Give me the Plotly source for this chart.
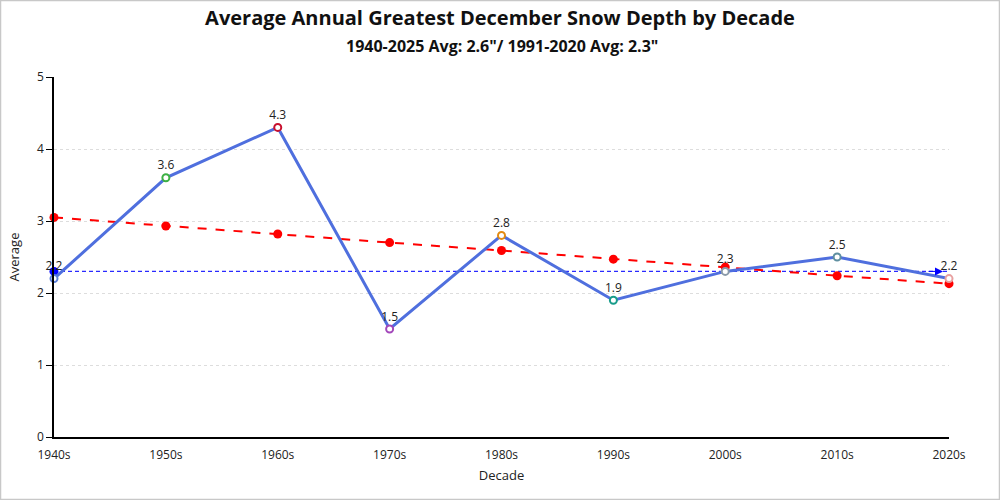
import plotly.graph_objects as go

decades = ["1940s", "1950s", "1960s", "1970s", "1980s", "1990s", "2000s", "2010s", "2020s"]
averages = [2.2, 3.6, 4.3, 1.5, 2.8, 1.9, 2.3, 2.5, 2.2]
trend = [3.05, 2.93, 2.82, 2.70, 2.59, 2.47, 2.36, 2.24, 2.13]
normal_1991_2020 = 2.3
marker_colors = ["#5b7fd9", "#3cb043", "#c8102e", "#a347ba", "#e38b12",
                 "#179c8a", "#8a9aa8", "#5f8fa0", "#e8a0a0"]
title = "Average Annual Greatest December Snow Depth by Decade"
subtitle = '1940-2025 Avg: 2.6"/ 1991-2020 Avg: 2.3"'

font = "Open Sans"

fig = go.Figure()

# normal line (dashed blue)
fig.add_trace(go.Scatter(
    x=decades, y=[normal_1991_2020] * len(decades), mode="lines",
    line=dict(color="#2a2aff", width=1.4, dash="4px,3px"),
    hoverinfo="skip", showlegend=False, cliponaxis=False))
fig.add_trace(go.Scatter(
    x=[decades[0]], y=[normal_1991_2020], mode="markers",
    marker=dict(color="#0000ff", size=9),
    hoverinfo="skip", showlegend=False, cliponaxis=False))

# trend line
fig.add_trace(go.Scatter(
    x=decades, y=trend, mode="lines+markers",
    line=dict(color="#ff0000", width=2, dash="dash"),
    marker=dict(color="#ff0000", size=9),
    showlegend=False, cliponaxis=False))

# main series
fig.add_trace(go.Scatter(
    x=decades, y=averages, mode="lines+markers+text",
    line=dict(color="#4f6fde", width=3),
    marker=dict(color="white", size=7, line=dict(color=marker_colors, width=2)),
    text=[f"{v:.1f}" for v in averages], textposition="top center",
    textfont=dict(family=font, size=12, color="#222"),
    showlegend=False, cliponaxis=False))

fig.add_annotation(x=8, y=normal_1991_2020, ax=-22, ay=0, text="",
                   showarrow=True, arrowhead=2, arrowsize=1.6, arrowwidth=1,
                   arrowcolor="#0000ff", standoff=6)

fig.update_layout(
    width=1000, height=500,
    paper_bgcolor="white", plot_bgcolor="white",
    margin=dict(l=54, r=51, t=77, b=63),
    font=dict(family=font, size=12, color="#222"),
    title=dict(text=f"<b>{title}</b>", x=0.5, xanchor="center", y=0.965, yanchor="middle",
               font=dict(family=font, size=20, color="#111")),
    xaxis=dict(type="category", range=[0, 8], showgrid=False, automargin=False,
               showline=True, linecolor="#000", linewidth=1.5,
               ticks="", tickfont=dict(size=12, color="#222"),
               ticklabelstandoff=6,
               title=dict(text="Decade", font=dict(size=13), standoff=9),
               zeroline=False),
    yaxis=dict(range=[0, 5], dtick=1, showgrid=True, gridcolor="#dddddd",
               griddash="dot", gridwidth=1, automargin=False,
               showline=True, linecolor="#000", linewidth=1.5,
               ticks="outside", ticklen=6, tickcolor="#000",
               tickfont=dict(size=12, color="#222"),
               title=dict(text="Average", font=dict(size=13), standoff=14),
               zeroline=False),
)

fig.add_annotation(text=f"<b>{subtitle}</b>", xref="paper", yref="paper",
                   x=0.5, y=1 + 31 / 360, xanchor="center", yanchor="middle",
                   showarrow=False, font=dict(family=font, size=16, color="#111"))

# outer border
fig.add_shape(type="rect", xref="paper", yref="paper",
              x0=-53.5 / 895, x1=1 + 50.5 / 895, y0=-62.5 / 360, y1=1 + 76.5 / 360,
              line=dict(color="#c8c8c8", width=1.5), layer="below")

fig.write_html("out.html", config={"displayModeBar": False},
               post_script="document.body.style.margin='0';")
